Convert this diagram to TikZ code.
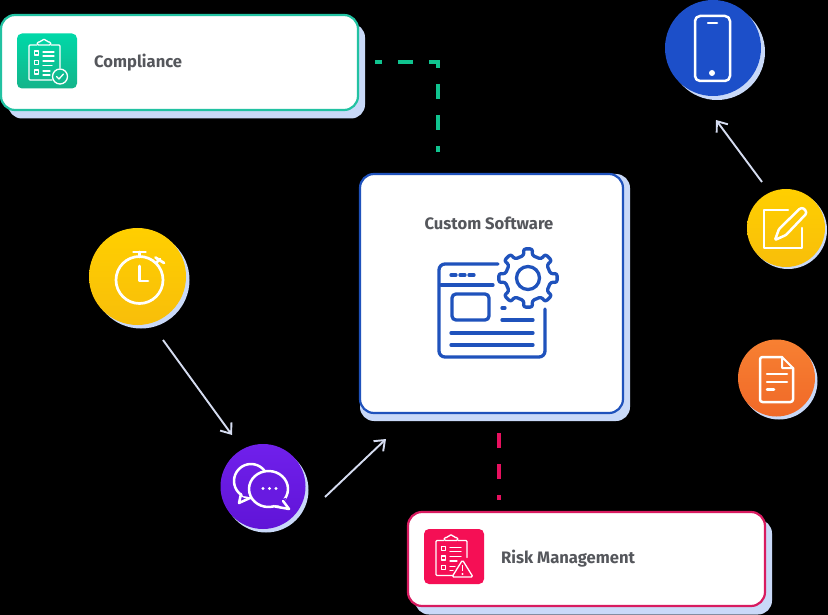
\documentclass[tikz,border=0pt]{standalone}
\usepackage{fontspec}
\setmainfont{Fira Sans}
\usetikzlibrary{arrows.meta}
\definecolor{shadowc}{HTML}{C9D9F8}
\definecolor{greenc}{HTML}{22C2A2}
\definecolor{dashgreen}{HTML}{10C48F}
\definecolor{bluec}{HTML}{1F52BC}
\definecolor{redc}{HTML}{D81B60}
\definecolor{dashred}{HTML}{E8105F}
\definecolor{textc}{HTML}{55575C}
\definecolor{arrowc}{HTML}{D5DCF0}
\definecolor{phonec}{HTML}{1C4FC9}
\definecolor{yellowt}{HTML}{FFCF00}
\definecolor{yellowb}{HTML}{F8BE0A}
\definecolor{oranget}{HTML}{F78032}
\definecolor{orangeb}{HTML}{F06928}
\definecolor{purplet}{HTML}{7020EB}
\definecolor{purpleb}{HTML}{6014D7}
\definecolor{purplem}{HTML}{681AE1}
\definecolor{tealt}{HTML}{00D8A8}
\definecolor{tealb}{HTML}{14B48A}
\definecolor{riskt}{HTML}{F50F55}
\tikzset{
  cardshadow/.style={fill=shadowc,draw=none,rounded corners=14pt,inner sep=0pt},
  card/.style={fill=white,draw=#1,line width=2.2pt,rounded corners=14pt,inner sep=0pt},
  label/.style={font=\bfseries\fontsize{16.6}{19}\selectfont,text=textc,inner sep=0pt,anchor=west},
  disc/.style={circle,draw=none,inner sep=0pt},
  discshadow/.style={circle,fill=shadowc,draw=none,inner sep=0pt},
  tile/.style={rounded corners=5pt,inner sep=0pt,draw=none,minimum width=60pt,minimum height=55pt},
  flow/.style={draw=arrowc,line width=1.9pt,-{Straight Barb[length=9pt,width=14pt,line width=1.9pt]}},
  glyph/.style={draw=white,line width=2.5pt,line cap=round,line join=round},
  gthin/.style={draw=white,line width=1.3pt,line cap=round,line join=round},
  winline/.style={draw=bluec,line width=3.3pt,line cap=round,line join=round},
  dashg/.style={draw=#1,line width=3.4pt,dash pattern=on 15pt off 16pt}
}
\begin{document}
\begin{tikzpicture}[x=1pt,y=-1pt]
\path[use as bounding box,fill=black] (0,0) rectangle (828,615);

% cards
\node[cardshadow,minimum width=357pt,minimum height=95pt] (compS) at (186.5,71) {};
\node[card=greenc,minimum width=357pt,minimum height=95pt] (comp) at (179.5,62.5) {};
\node[cardshadow,minimum width=270pt,minimum height=247pt] (softS) at (495,297.5) {};
\node[card=bluec,minimum width=263pt,minimum height=239pt] (soft) at (491.5,293.5) {};
\node[cardshadow,minimum width=357pt,minimum height=95pt] (riskS) at (593.5,567) {};
\node[card=redc,minimum width=357pt,minimum height=94pt] (risk) at (586.5,559) {};

% labels
\node[label] (compT) at (94,63) {Compliance};
\node[label,anchor=center] (softT) at (489,223) {Custom Software};
\node[label] (riskT) at (501,559) {Risk Management};

% dashed connectors
\coordinate (gstart) at (375,62);
\coordinate (gcorner) at (438,62);
\coordinate (gend) at (438,152);
\draw[dashg=dashgreen,dash phase=8pt] (gstart) -- (gcorner) -- (gend);
\coordinate (rstart) at (499,433);
\coordinate (rend) at (499,500);
\draw[dashg=dashred] (rstart) -- (rend);

% discs
\node[discshadow,minimum size=96pt] (phoneS) at (717,52) {};
\node[disc,fill=phonec,minimum size=96pt] (phone) at (713,48) {};
\node[discshadow,minimum size=78pt] (padS) at (788,230) {};
\node[disc,top color=yellowt,bottom color=yellowb,minimum size=78pt] (pad) at (786,228) {};
\node[discshadow,minimum size=77pt] (docS) at (779,381) {};
\node[disc,top color=oranget,bottom color=orangeb,minimum size=77pt] (doc) at (776.5,378) {};
\node[discshadow,minimum size=97pt] (clockS) at (141,280) {};
\node[disc,top color=yellowt,bottom color=yellowb,minimum size=97pt] (clock) at (137.5,276.5) {};
\node[discshadow,minimum size=85pt] (chatS) at (266,490) {};
\node[disc,top color=purplet,bottom color=purpleb,minimum size=85pt] (chat) at (263,486.5) {};

% arrows
\coordinate (a1s) at (762,182); \coordinate (a1e) at (716,120);
\coordinate (a2s) at (163,340); \coordinate (a2e) at (232,435);
\coordinate (a3s) at (325,497); \coordinate (a3e) at (386,439);
\draw[flow] (a1s) -- (a1e);
\draw[flow] (a2s) -- (a2e);
\draw[flow] (a3s) -- (a3e);

% tiles
\node[tile,top color=tealt,bottom color=tealb] (compIcon) at (47,61) {};
\node[tile,fill=riskt] (riskIcon) at (454,556.5) {};

% compliance glyph
\begin{scope}
\draw[gthin,rounded corners=1pt] (37,45) -- (29,45) -- (29,80) -- (52,80);
\draw[gthin,rounded corners=1pt] (51,45) -- (60,45) -- (60,68);
\draw[gthin,rounded corners=1.5pt] (37,45) -- (37,42) -- (41,42) -- (42,39.5) -- (46,39.5) -- (47,42) -- (51,42) -- (51,45) -- cycle;
\foreach \yy in {53,62.5,72}{
  \draw[gthin] (34.5,\yy-2) rectangle (38.5,\yy+2);
}
\draw[gthin] (43,52) -- (54,52) (43,56) -- (54,56) (43,61) -- (54,61) (43,65.5) -- (52,65.5) (43,71) -- (50,71) (43,75) -- (50,75);
\draw[gthin] (60,76.5) circle (7.5);
\draw[gthin] (56.5,76.5) -- (59,79) -- (63.5,74);
\end{scope}

% risk glyph
\begin{scope}[shift={(407,495.5)}]
\draw[gthin,rounded corners=1pt] (37,45) -- (29,45) -- (29,80) -- (46,80);
\draw[gthin,rounded corners=1pt] (51,45) -- (60,45) -- (60,62);
\draw[gthin,rounded corners=1.5pt] (37,45) -- (37,42) -- (41,42) -- (42,39.5) -- (46,39.5) -- (47,42) -- (51,42) -- (51,45) -- cycle;
\foreach \yy in {53,62.5,72}{
  \draw[gthin] (34.5,\yy-2) rectangle (38.5,\yy+2);
}
\draw[gthin] (43,52) -- (54,52) (43,56) -- (54,56) (43,61) -- (54,61) (43,65.5) -- (50,65.5) (43,71) -- (48,71) (43,75) -- (46,75);
\draw[gthin,rounded corners=1.5pt] (55.5,64.5) -- (66,81.5) -- (45,81.5) -- cycle;
\draw[white,line width=1.6pt] (55.5,69.5) -- (55.5,75.5);
\fill[white] (55.5,78.5) circle (1.1);
\end{scope}

% window glyph
\draw[winline,rounded corners=6pt] (498,264) -- (439,264) -- (439,357) -- (545,357) -- (545,309);
\draw[winline] (441,285) -- (493,285);
\draw[winline] (451,275) -- (456,275) (460,275) -- (465,275) (469,275) -- (474,275);
\draw[winline,rounded corners=4pt] (452,294) rectangle (489,320);
\draw[winline] (502,308) -- (505,308);
\draw[winline] (502,320) -- (533,320);
\draw[winline] (451,333) -- (533,333);
\draw[winline] (451,345) -- (533,345);
\begin{scope}[shift={(528,278)}]
\draw[winline,rounded corners=2.5pt]
  (-10:23) -- (-9:29.5) -- (9:29.5) -- (10:23)
  -- (35:23) -- (36:29.5) -- (54:29.5) -- (55:23)
  -- (80:23) -- (81:29.5) -- (99:29.5) -- (100:23)
  -- (125:23) -- (126:29.5) -- (144:29.5) -- (145:23)
  -- (170:23) -- (171:29.5) -- (189:29.5) -- (190:23)
  -- (215:23) -- (216:29.5) -- (234:29.5) -- (235:23)
  -- (260:23) -- (261:29.5) -- (279:29.5) -- (280:23)
  -- (305:23) -- (306:29.5) -- (324:29.5) -- (325:23)
  -- cycle;
\draw[winline] (0,0) circle (11.5);
\end{scope}

% phone glyph
\draw[glyph,rounded corners=5pt] (695,16) rectangle (730,81);
\draw[glyph] (708,23) -- (717,23);
\fill[white] (712,73) circle (3);

% pad glyph
\draw[glyph] (788,210) -- (764,210) -- (764,248) -- (802,248) -- (802,228);
\draw[glyph,rounded corners=1pt] (775,240) -- (779,229) -- (800,208.5) -- (803,208) -- (806,211) -- (806,214) -- (786,235) -- cycle;

% doc glyph
\draw[glyph,rounded corners=2.5pt] (782,357) -- (760,357) -- (760,402) -- (793,402) -- (793,368);
\draw[glyph,line width=2pt] (782,357) -- (793,368) -- (782,368) -- cycle;
\draw[glyph] (767,374) -- (787,374) (767,382) -- (787,382) (767,389.5) -- (774,389.5);

% clock glyph
\draw[glyph,line width=2.7pt] (139.5,280) circle (23.5);
\draw[glyph,line width=2.7pt] (139.5,266) -- (139.5,281) -- (148,281);
\draw[glyph,line width=2.7pt] (139.5,252) -- (139.5,257) (133.5,252) -- (145.5,252);
\draw[glyph,line width=2.7pt] (156,263) -- (160,259) (155.5,257.5) -- (164,263);

% chat glyph
\draw[glyph] (251,481) circle (17);
\fill[purplem] (241,491) -- (250,491) -- (250,497) -- (243,496) -- cycle;
\draw[glyph] (241,494) -- (239,503) -- (250,498);
\draw[glyph,fill=purplem] (268.5,489) ellipse[x radius=19.5,y radius=18];
\fill[purplem] (276,500) -- (286,498) -- (284,506) -- (274,505) -- cycle;
\draw[glyph] (283,501) -- (289,509) -- (275,506.5);
\foreach \xx in {263,269.5,276}{ \fill[white] (\xx,488.5) circle (1.7); }
\end{tikzpicture}
\end{document}
